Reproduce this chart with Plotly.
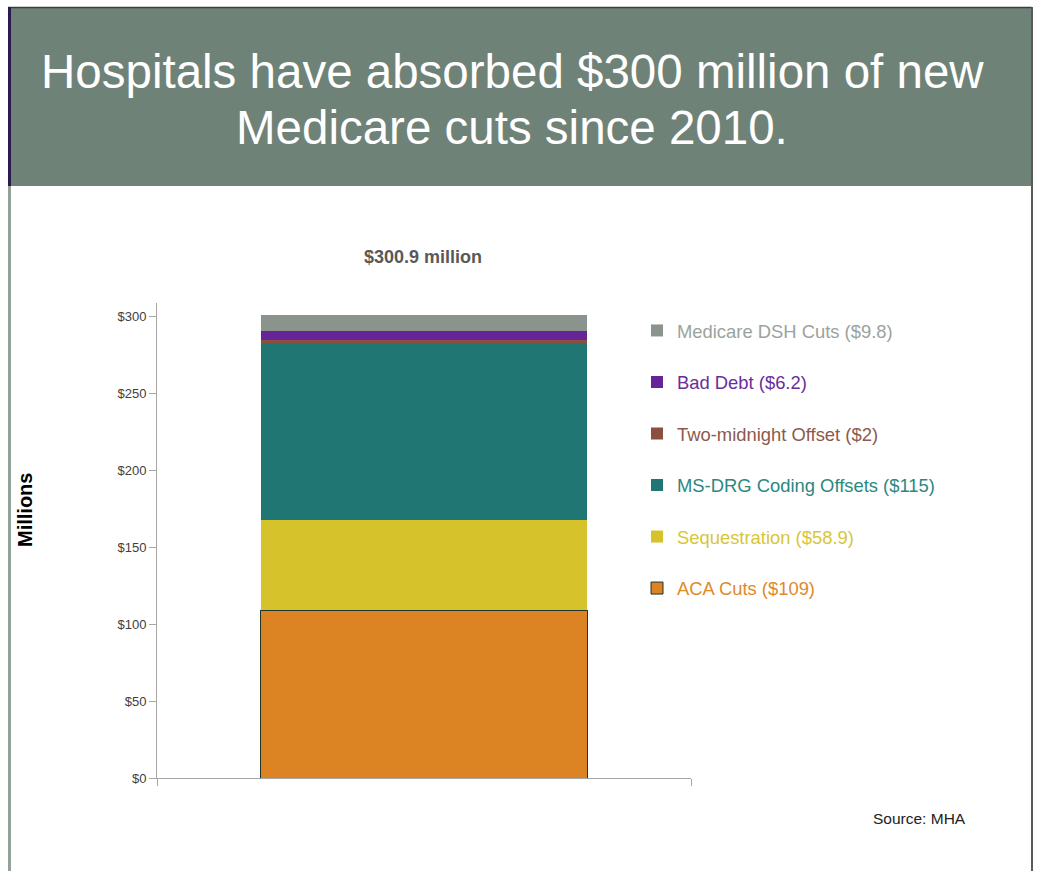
import plotly.graph_objects as go

# ---- data ----
series_names = ["ACA Cuts", "Sequestration", "MS-DRG Coding Offsets",
                "Two-midnight Offset", "Bad Debt", "Medicare DSH Cuts"]
series_values = [109, 58.9, 115, 2, 6.2, 9.8]
value_labels = ["$109", "$58.9", "$115", "$2", "$6.2", "$9.8"]
bar_colors = ["#DC8423", "#D6C22B", "#1F7672", "#8B4E3F", "#662597", "#8A948C"]
text_colors = ["#E0892B", "#D8C637", "#2B8882", "#8C5A4E", "#6A2E9A", "#9AA39D"]
category = [0.5]
y_ticks = [0, 50, 100, 150, 200, 250, 300]
total_label = "$300.9 million"

W, H = 1039, 871
L, R, T, B = 157, 691, 303, 778


def px(x):
    return (x - L) / (R - L)


def py(y):
    return (B - y) / (B - T)


FONT = "Liberation Sans, Arial, sans-serif"

fig = go.Figure()
n_series = len(series_names)
for i, (n, v, lab) in enumerate(zip(series_names, series_values, value_labels)):
    fig.add_trace(go.Bar(
        x=category, y=[v], width=0.612,
        name=f'<span style="color:{text_colors[i]}">{n} ({lab})</span>',
        legendgroup=f"g{i}",
        legendrank=1000 + (n_series - i),
        marker=dict(color=bar_colors[i],
                    line=dict(color="#22352c" if i == 0 else bar_colors[i],
                              width=1 if i == 0 else 0)),
        hoverinfo="skip",
    ))

shapes = [
    # header band
    dict(type="rect", xref="paper", yref="paper", x0=px(8), x1=px(1032), y0=py(186), y1=py(7),
         fillcolor="#6F8278", line=dict(width=0), layer="below"),
    dict(type="line", xref="paper", yref="paper", x0=px(8), x1=px(1032), y0=py(7.5), y1=py(7.5),
         line=dict(color="#3a3f3c", width=1.5)),
    dict(type="line", xref="paper", yref="paper", x0=px(9.5), x1=px(9.5), y0=py(186), y1=py(7),
         line=dict(color="#2B1A4F", width=3)),
    dict(type="line", xref="paper", yref="paper", x0=px(9.5), x1=px(9.5), y0=py(871), y1=py(186),
         line=dict(color="#93A199", width=3)),
    dict(type="line", xref="paper", yref="paper", x0=px(1032), x1=px(1032), y0=py(871), y1=py(7),
         line=dict(color="#5a5a5a", width=2)),
]

annotations = [
    dict(text="Hospitals have absorbed $300 million of new", x=px(512), y=py(71),
         xref="paper", yref="paper", showarrow=False, xanchor="center", yanchor="middle",
         font=dict(family=FONT, size=47.5, color="white")),
    dict(text="Medicare cuts since 2010.", x=px(512), y=py(128),
         xref="paper", yref="paper", showarrow=False, xanchor="center", yanchor="middle",
         font=dict(family=FONT, size=47.5, color="white")),
    dict(text=f"<b>{total_label}</b>", x=px(423), y=py(257),
         xref="paper", yref="paper", showarrow=False, xanchor="center", yanchor="middle",
         font=dict(family=FONT, size=18, color="#595959")),
    dict(text="<b>Millions</b>", x=px(25), y=py(510), textangle=-90,
         xref="paper", yref="paper", showarrow=False, xanchor="center", yanchor="middle",
         font=dict(family=FONT, size=20, color="#000000")),
    dict(text="Source: MHA", x=px(871), y=py(818),
         xref="paper", yref="paper", showarrow=False, xanchor="left", yanchor="middle",
         font=dict(family=FONT, size=15.5, color="#222222")),
]

fig.update_layout(
    width=W, height=H,
    margin=dict(l=L, r=W - R, t=T, b=H - B, pad=0),
    paper_bgcolor="white", plot_bgcolor="white",
    barmode="stack",
    showlegend=True,
    legend=dict(x=px(637), y=py(312), xanchor="left", yanchor="top",
                traceorder="grouped", tracegroupgap=24.6,
                font=dict(family=FONT, size=18.4),
                bgcolor="rgba(0,0,0,0)", itemclick=False, itemdoubleclick=False),
    xaxis=dict(range=[0, 1], tickvals=[0, 1], ticks="outside", ticklen=7,
               tickcolor="#A6A6A6", showticklabels=False, showline=True,
               linecolor="#A6A6A6", linewidth=1, showgrid=False, zeroline=False,
               fixedrange=True),
    yaxis=dict(range=[0, 309], tickvals=y_ticks, ticktext=[f"${v}" for v in y_ticks],
               ticks="outside", ticklen=7, tickcolor="#A6A6A6",
               showline=True, linecolor="#A6A6A6", linewidth=1, showgrid=False,
               zeroline=False, tickfont=dict(family=FONT, size=13, color="#404040"),
               fixedrange=True),
    shapes=shapes,
    annotations=annotations,
)

fig.write_html("out.html", config={"displayModeBar": False})
